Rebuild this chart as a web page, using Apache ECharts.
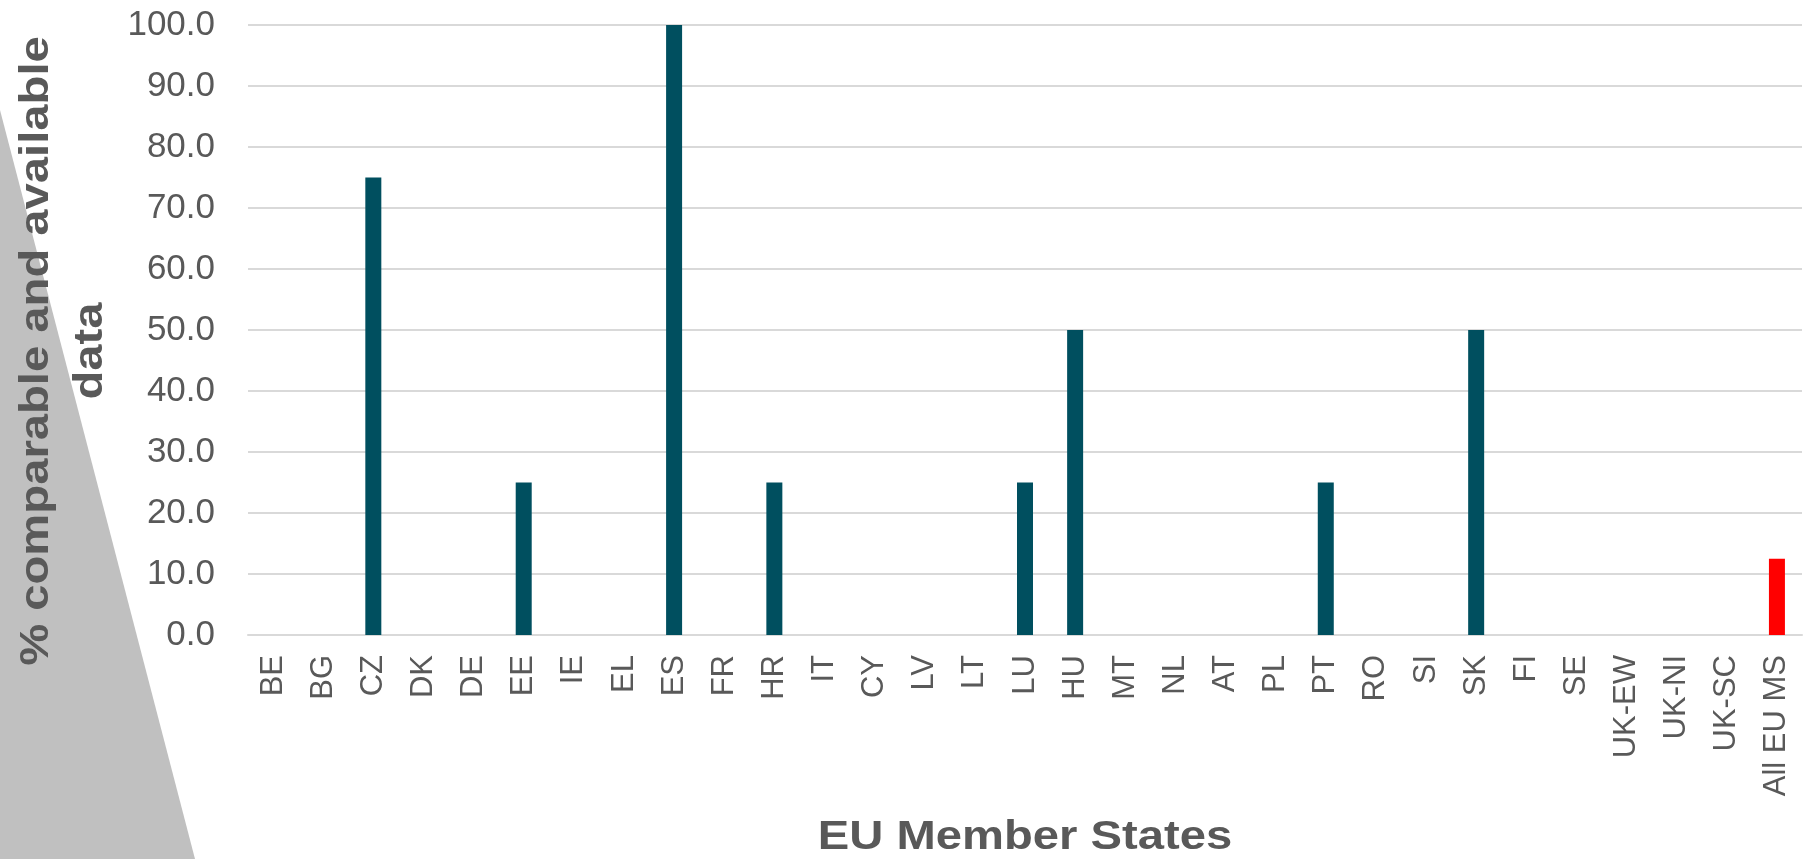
<!DOCTYPE html>
<html>
<head>
<meta charset="utf-8">
<script src="https://cdn.jsdelivr.net/npm/echarts@6/dist/echarts.min.js"></script>
<style>
html,body{margin:0;padding:0;background:#fff;}
#chart{width:1810px;height:859px;}
</style>
</head>
<body>
<div id="chart"></div>
<script>
const categories = ['BE','BG','CZ','DK','DE','EE','IE','EL','ES','FR','HR','IT','CY','LV','LT','LU','HU','MT','NL','AT','PL','PT','RO','SI','SK','FI','SE','UK-EW','UK-NI','UK-SC','All EU MS'];
const values = [0,0,75,0,0,25,0,0,100,0,25,0,0,0,0,25,50,0,0,0,0,25,0,0,50,0,0,0,0,0,12.5];
const highlightCategory = 'All EU MS';
const yTicks = {min:0, max:100, interval:10};
const xTitle = 'EU Member States';
const yTitle = '% comparable and available\ndata';

const FONT = '"Liberation Sans", Arial, sans-serif';
const chart = echarts.init(document.getElementById('chart'), null, {renderer:'canvas'});
chart.setOption({
  animation:false,
  backgroundColor:'#ffffff',
  graphic:[
    {type:'polygon', z:-10, silent:true, shape:{points:[[0,110],[195,859],[0,859]]}, style:{fill:'#c0c0c0'}},
    {type:'text', z:10, x:1025, y:838, scaleX:1.18, style:{text:xTitle, font:'bold 40px '+FONT, fill:'#595959', align:'center', verticalAlign:'middle'}},
    {type:'text', z:10, x:64, y:351, rotation:Math.PI/2, scaleX:1.18, style:{text:yTitle, font:'bold 40px '+FONT, fill:'#595959', align:'center', verticalAlign:'middle', lineHeight:54}}
  ],
  grid:{left:248, right:8, top:25, bottom:224, containLabel:false},
  xAxis:{
    type:'category', data:categories,
    axisLine:{show:true, lineStyle:{color:'#d9d9d9', width:2}},
    axisTick:{show:false},
    axisLabel:{interval:0, rotate:90, margin:20, color:'#595959', fontSize:31, fontFamily:FONT}
  },
  yAxis:{
    type:'value', min:yTicks.min, max:yTicks.max, interval:yTicks.interval,
    axisLine:{show:false}, axisTick:{show:false},
    splitLine:{lineStyle:{color:'#d9d9d9', width:2}},
    axisLabel:{margin:33, color:'#595959', fontSize:35, fontFamily:FONT, formatter:v=>v.toFixed(1)}
  },
  series:[{
    type:'bar', barWidth:16,
    data: values.map((v,i)=>({value:v, itemStyle:{color: categories[i]===highlightCategory ? '#ff0000' : '#004f5f'}}))
  }]
});
</script>
</body>
</html>
